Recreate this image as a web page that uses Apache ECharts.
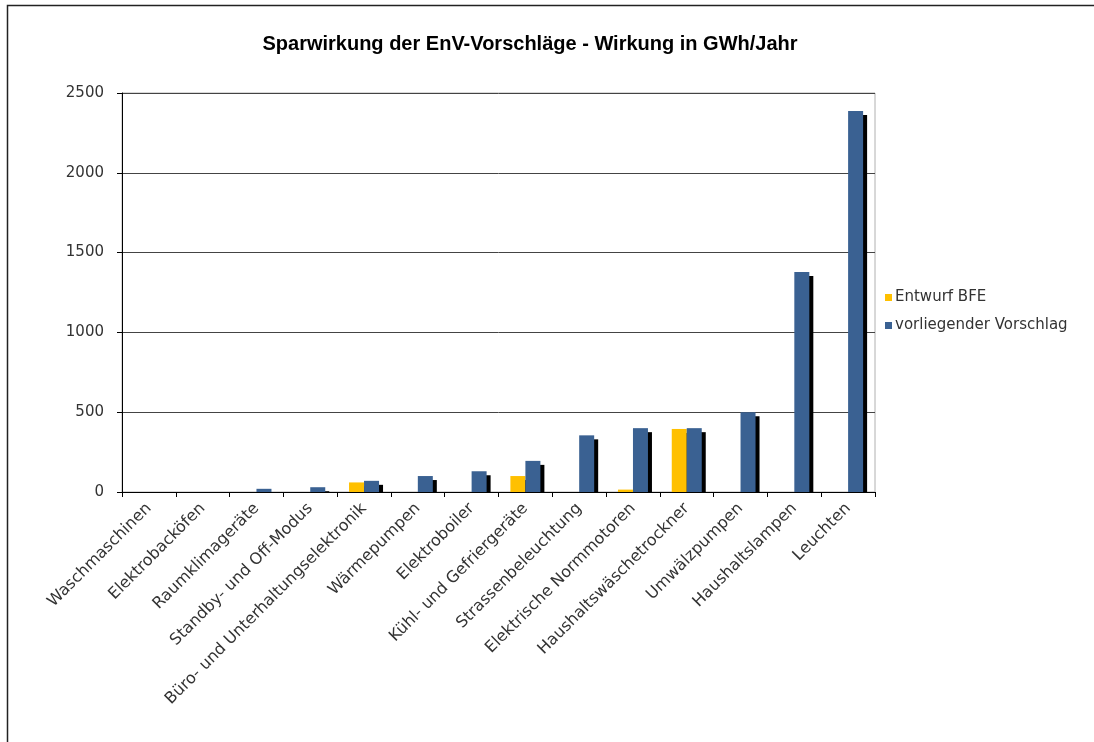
<!DOCTYPE html>
<html>
<head>
<meta charset="utf-8">
<script src="https://cdn.jsdelivr.net/npm/echarts@6/dist/echarts.min.js"></script>
<style>
  html, body { margin: 0; padding: 0; background: #fff; }
  #chart { width: 1094px; height: 742px; }
</style>
</head>
<body>
<div id="chart"></div>
<script>
// Kategorien (x-Achse)
const categories = [
  'Waschmaschinen', 'Elektrobacköfen', 'Raumklimageräte', 'Standby- und Off-Modus',
  'Büro- und Unterhaltungselektronik', 'Wärmepumpen', 'Elektroboiler',
  'Kühl- und Gefriergeräte', 'Strassenbeleuchtung', 'Elektrische Normmotoren',
  'Haushaltswäschetrockner', 'Umwälzpumpen', 'Haushaltslampen', 'Leuchten'
];
// Werte in GWh/Jahr
const entwurfBFE = [0, 0, 0, 0, 60, 0, 0, 100, 0, 15, 395, 0, 0, 0];
const vorschlag = [0, 0, 20, 30, 70, 100, 130, 195, 355, 400, 400, 500, 1378, 2388];
const yTicks = { min: 0, max: 2500, interval: 500 };

const labelFont = 'DejaVu Sans';

const myChart = echarts.init(document.getElementById('chart'));

// Schatten wie im Excel-Diagramm
const shadow = {
  shadowColor: '#000',
  shadowBlur: 0,
  shadowOffsetX: 4,
  shadowOffsetY: 4,
};

myChart.setOption({
  animation: false,
  backgroundColor: '#fff',
  title: {
    text: 'Sparwirkung der EnV-Vorschläge - Wirkung in GWh/Jahr',
    left: 525,
    textAlign: 'center',
    top: 29,
    textStyle: {
      fontFamily: 'Liberation Sans',
      fontWeight: 'bold',
      fontSize: 20,
      color: '#000',
    },
  },
  graphic: [
    {
      type: 'rect',
      shape: { x: 7.5, y: 5.5, width: 1200, height: 900 },
      style: { fill: 'none', stroke: '#222', lineWidth: 1.5 },
      silent: true,
    },
    // Schatten unterhalb der x-Achse abdecken
    {
      type: 'rect',
      z: 4,
      shape: { x: 118, y: 493, width: 770, height: 7 },
      style: { fill: '#fff' },
      silent: true,
    },
  ],
  legend: {
    orient: 'vertical',
    left: 880,
    top: 285,
    itemWidth: 7,
    itemHeight: 7,
    itemGap: 13,
    icon: 'rect',
    itemStyle: { shadowColor: 'transparent', shadowOffsetX: 0, shadowOffsetY: 0 },
    textStyle: { fontFamily: labelFont, fontSize: 15, color: '#333', padding: [0, 0, 0, -2] },
    data: ['Entwurf BFE', 'vorliegender Vorschlag'],
  },
  grid: {
    left: 122,
    right: 219,
    top: 93,
    bottom: 250,
    show: true,
    borderColor: '#b0b0b0',
    borderWidth: 1,
  },
  xAxis: {
    type: 'category',
    z: 5,
    data: categories,
    axisLine: { lineStyle: { color: '#000', width: 1 } },
    axisTick: { show: true, length: 5, lineStyle: { color: '#000' } },
    axisLabel: {
      interval: 0,
      rotate: 45,
      fontFamily: labelFont,
      fontSize: 16,
      color: '#333',
      margin: 14,
    },
  },
  yAxis: {
    type: 'value',
    min: yTicks.min,
    max: yTicks.max,
    interval: yTicks.interval,
    axisLine: { show: true, lineStyle: { color: '#000', width: 1 } },
    axisTick: { show: true, length: 5, lineStyle: { color: '#000' } },
    axisLabel: {
      fontFamily: labelFont,
      fontSize: 15,
      color: '#333',
      margin: 18,
      formatter: (v) => String(v),
    },
    splitLine: { lineStyle: { color: '#444', width: 1 } },
  },
  series: [
    {
      name: 'Entwurf BFE',
      type: 'bar',
      data: entwurfBFE,
      barWidth: 15,
      barGap: '0%',
      itemStyle: Object.assign({ color: '#FFC000' }, shadow),
    },
    {
      name: 'vorliegender Vorschlag',
      type: 'bar',
      data: vorschlag,
      barWidth: 15,
      barGap: '0%',
      itemStyle: Object.assign({ color: '#3A6192' }, shadow),
    },
  ],
});
</script>
</body>
</html>
